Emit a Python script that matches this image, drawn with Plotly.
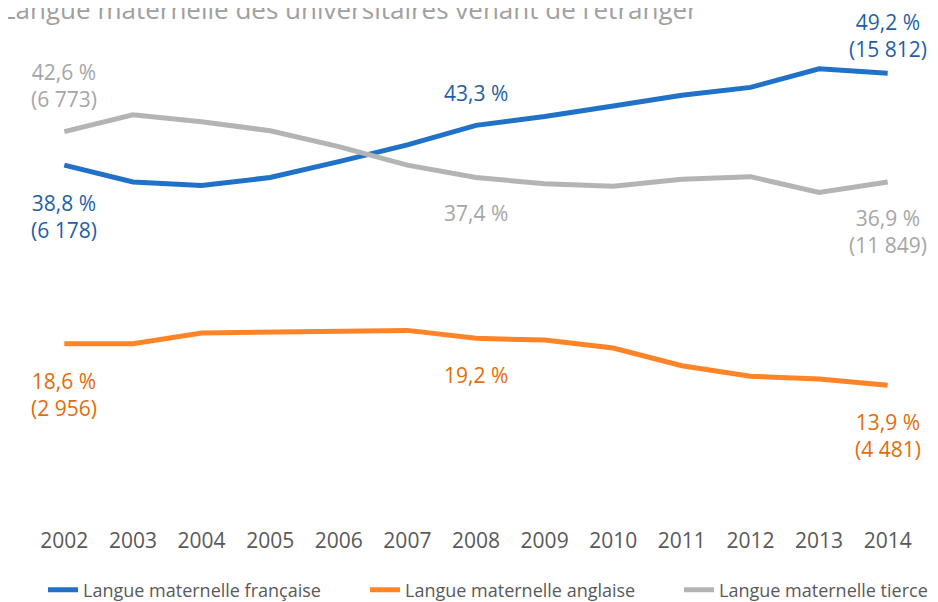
import plotly.graph_objects as go

# ── data ───────────────────────────────────────────────────────────────────────
YEARS = list(range(2002, 2015))
FRANCAISE = [38.8, 36.9, 36.5, 37.4, 39.2, 41.1, 43.3, 44.3, 45.5, 46.7, 47.6, 49.7, 49.2]
ANGLAISE  = [18.6, 18.6, 19.8, 19.9, 19.9, 20.1, 19.2, 19.0, 18.1, 16.1, 14.9, 14.6, 13.9]
TIERCE    = [42.6, 44.5, 43.7, 42.7, 40.9, 38.8, 37.4, 36.7, 36.4, 37.2, 37.5, 35.7, 36.9]

# absolute counts shown on the first/last labels
COUNTS_2002 = {"fr": 6178, "en": 2956, "ti": 6773}
COUNTS_2014 = {"fr": 15812, "en": 4481, "ti": 11849}

NAMES = {"fr": "Langue maternelle française",
         "en": "Langue maternelle anglaise",
         "ti": "Langue maternelle tierce"}
TITLE = "Langue maternelle des universitaires venant de l’étranger"

# ── style ──────────────────────────────────────────────────────────────────────
FONT = "Open Sans"
LINE_COL  = {"fr": "#1F72C8", "en": "#FF8427", "ti": "#B4B4B4"}
LABEL_COL = {"fr": "#1F5FA8", "en": "#E46C0A", "ti": "#A6A6A6"}
SERIES = {"fr": FRANCAISE, "en": ANGLAISE, "ti": TIERCE}

# label offsets (px) at 2002, 2008, 2014
SHIFT = {"fr": (-51, 32, 38), "en": (-51, -37, -50), "ti": (46, -35, -50)}

# one legend per series so the entries sit where the original ones do
LEGENDS = {"fr": ("legend", 0.0146), "en": ("legend2", 0.3756), "ti": ("legend3", 0.7276)}


def pct(v):
    return f"{v:.1f}".replace(".", ",") + " %"


def cnt(n):
    return f"({n:,})".replace(",", "\u00a0")


fig = go.Figure()
for key in ["fr", "en", "ti"]:
    fig.add_trace(go.Scatter(
        x=YEARS, y=SERIES[key], mode="lines", name=NAMES[key],
        line=dict(color=LINE_COL[key], width=5),
        legend=LEGENDS[key][0],
    ))

annotations = []
for key in ["fr", "en", "ti"]:
    vals = SERIES[key]
    s0, s1, s2 = SHIFT[key]
    i08 = YEARS.index(2008)
    items = [
        (2002, vals[0], pct(vals[0]) + "<br>" + cnt(COUNTS_2002[key]), s0),
        (2008, vals[i08], pct(vals[i08]), s1),
        (2014, vals[-1], pct(vals[-1]) + "<br>" + cnt(COUNTS_2014[key]), s2),
    ]
    for x, y, txt, sh in items:
        annotations.append(dict(
            x=x, y=y, xref="x", yref="y", text=txt, showarrow=False,
            yshift=sh, xanchor="center", yanchor="middle",
            font=dict(family=FONT, size=21, color=LABEL_COL[key]),
        ))

# title, partially cropped at the top like the source image
annotations.append(dict(
    x=0, y=1, xref="paper", yref="paper", xanchor="left", yanchor="bottom",
    text=TITLE, showarrow=False, xshift=-30, yshift=-7,
    font=dict(family=FONT, size=26, color="#A0A0A0"),
))

legend_style = dict(
    orientation="h", xanchor="left", y=-0.1687, yanchor="middle",
    font=dict(family=FONT, size=18, color="#595959"),
    itemwidth=30, bgcolor="rgba(0,0,0,0)",
)

fig.update_layout(
    width=938, height=602,
    paper_bgcolor="white", plot_bgcolor="white",
    margin=dict(l=22, r=24, t=14, b=102, autoexpand=False),
    font=dict(family=FONT),
    xaxis=dict(
        range=[2001.5, 2014.5], tickmode="array", tickvals=YEARS,
        ticktext=[str(y) for y in YEARS], showgrid=False, zeroline=False,
        showline=False, ticks="", ticklabelstandoff=18,
        tickfont=dict(family=FONT, size=21, color="#595959"),
    ),
    yaxis=dict(range=[0, 55], visible=False),
    legend=dict(legend_style, x=LEGENDS["fr"][1]),
    legend2=dict(legend_style, x=LEGENDS["en"][1]),
    legend3=dict(legend_style, x=LEGENDS["ti"][1]),
    annotations=annotations,
    showlegend=True,
)

fig.write_html("out.html")
